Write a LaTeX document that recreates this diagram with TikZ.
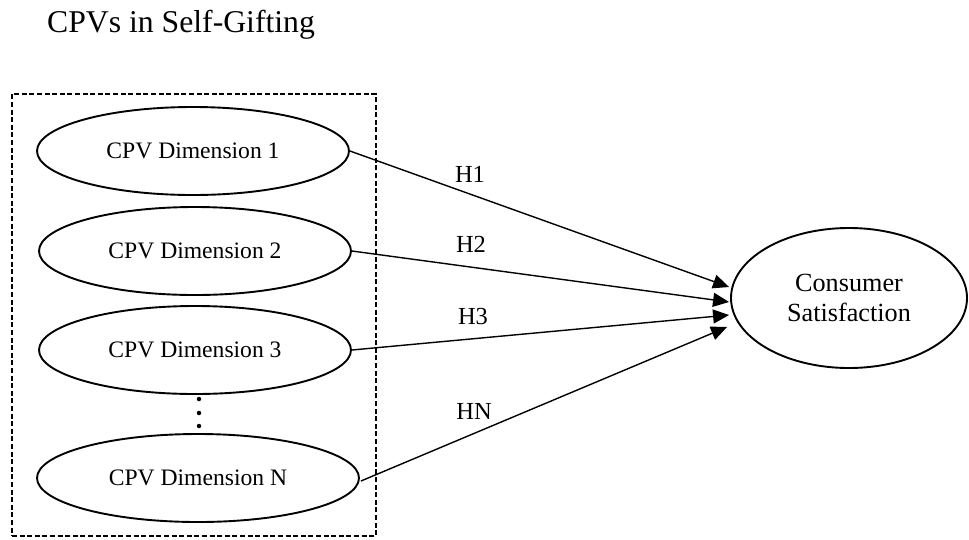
\documentclass[tikz,border=0pt]{standalone}
\usepackage{fontspec}
\setmainfont{Liberation Serif}
\usetikzlibrary{shapes.geometric,arrows.meta}

\tikzset{
  dimbox/.style={draw, ellipse, line width=1.9pt, inner sep=0pt,
    minimum width=312pt, minimum height=88pt,
    font=\fontsize{23.6}{28}\selectfont},
  outcome/.style={draw, ellipse, line width=1.9pt, inner sep=0pt,
    minimum width=236pt, minimum height=140pt, align=center,
    font=\fontsize{26.2}{30}\selectfont},
  groupframe/.style={draw, line width=2.2pt, dash pattern=on 5pt off 2.6pt},
  hyp/.style={line width=1.4pt, -{Triangle[length=16pt,width=14pt]}},
  hlabel/.style={font=\fontsize{24.5}{28}\selectfont, inner sep=0pt},
  dotmark/.style={fill=black, circle, inner sep=0pt, minimum size=4.5pt}
}

\begin{document}
\begin{tikzpicture}[x=1pt, y=-1pt]
  \useasboundingbox (0,0) rectangle (969,539);

  % heading
  \node[anchor=base west, inner sep=0pt, font=\fontsize{31.7}{38}\selectfont]
    (title) at (47,32) {CPVs in Self-Gifting};

  % dashed group around the dimensions
  \node[groupframe, minimum width=364pt, minimum height=442pt, inner sep=0pt]
    (group) at (194,315) {};

  % dimension ellipses
  \node[dimbox] (d1) at (193,151) {CPV Dimension 1};
  \node[dimbox] (d2) at (195,251) {CPV Dimension 2};
  \node[dimbox] (d3) at (195,350) {CPV Dimension 3};
  \node[dimbox, minimum width=322pt] (dn) at (198,478) {CPV Dimension N};

  % vertical ellipsis
  \node[dotmark] (p1) at (199,399) {};
  \node[dotmark] (p2) at (199,413) {};
  \node[dotmark] (p3) at (199,426) {};

  % outcome
  \node[outcome] (cs) at (849,298) {Consumer\\Satisfaction};

  % arrow tips on the outcome
  \coordinate (t1) at ([shift={(-1,-11)}]cs.west);
  \coordinate (t2) at ([shift={(-1,4)}]cs.west);
  \coordinate (t3) at ([shift={(-1,17)}]cs.west);
  \coordinate (t4) at ([shift={(-3,29)}]cs.west);

  % hypotheses
  \draw[hyp] (d1.east) -- (t1);
  \draw[hyp] (d2.east) -- (t2);
  \draw[hyp] (d3.east) -- (t3);
  \draw[hyp] ([shift={(1,3)}]dn.east) -- (t4);

  \node[hlabel] (h1) at (470,174) {H1};
  \node[hlabel] (h2) at (471,244) {H2};
  \node[hlabel] (h3) at (473,317) {H3};
  \node[hlabel] (hn) at (474,411) {HN};
\end{tikzpicture}
\end{document}
